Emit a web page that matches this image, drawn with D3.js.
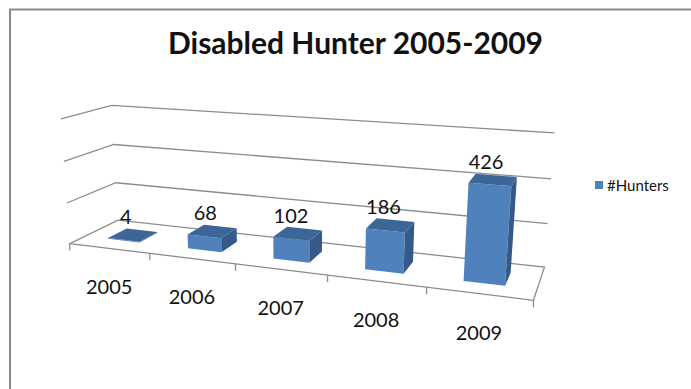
<!DOCTYPE html>
<html>
<head>
<meta charset="utf-8">
<script src="https://cdn.jsdelivr.net/npm/d3@7"></script>
<style>
  body { margin: 0; background: #fff; }
  svg { display: block; }
  text { font-family: Lato, "Open Sans", sans-serif; fill: #111; }
</style>
</head>
<body>
<script>

var years = ["2005", "2006", "2007", "2008", "2009"];
var hunters = [4, 68, 102, 186, 426];
var valueTicks = [0, 200, 400, 600];
var seriesName = "#Hunters";
var title = "Disabled Hunter 2005-2009";

var width = 691, height = 389;

// where the plot box corners land on screen (x, y, z in box units -> px)
// x: categories 0..5, y: gridline units 0..3, z: depth 0 (front) .. 1 (back)
var anchors = [
    [0, 0, 0, 70, 242], [5, 0, 0, 533, 300],
    [1, 0, 0, 149.3, 253.3], [2, 0, 0, 235.7, 264.5], [3, 0, 0, 327.7, 276], [4, 0, 0, 427, 287.5],
    [0, 0, 1, 117.5, 221], [5, 0, 1, 544.3, 266.7],
    [0, 1, 1, 116.5, 182.3], [0, 2, 1, 113.5, 144.3], [0, 3, 1, 111.7, 105.7],
    [5, 1, 1, 547.7, 223.3], [5, 2, 1, 551.5, 179], [5, 3, 1, 554.3, 132.7],
    [0, 1, 0, 67.3, 203.3], [0, 2, 0, 64, 161], [0, 3, 0, 60.7, 119]
];

// fit a perspective projection (3x4 matrix) through the anchors, least squares
function fitProjection(pts) {
    var n = 11;
    var M = [];
    for (var i = 0; i < n; i++) M.push(new Array(n + 1).fill(0));
    function add(row, rhs) {
        for (var i = 0; i < n; i++) {
            for (var j = 0; j < n; j++) M[i][j] += row[i] * row[j];
            M[i][n] += row[i] * rhs;
        }
    }
    pts.forEach(function (p) {
        var X = p[0], Y = p[1], Z = p[2];
        var u = (p[3] - 300) / 200, v = (p[4] - 200) / 200;
        add([X, Y, Z, 1, 0, 0, 0, 0, -u * X, -u * Y, -u * Z], u);
        add([0, 0, 0, 0, X, Y, Z, 1, -v * X, -v * Y, -v * Z], v);
    });
    for (var c = 0; c < n; c++) {
        var piv = c;
        for (var r = c + 1; r < n; r++) if (Math.abs(M[r][c]) > Math.abs(M[piv][c])) piv = r;
        var tmp = M[c]; M[c] = M[piv]; M[piv] = tmp;
        for (var r2 = 0; r2 < n; r2++) {
            if (r2 === c) continue;
            var f = M[r2][c] / M[c][c];
            for (var k = c; k <= n; k++) M[r2][k] -= f * M[c][k];
        }
    }
    return M.map(function (row, i) { return row[n] / row[i]; });
}

var P = fitProjection(anchors);

function project(x, y, z) {
    var w = P[8] * x + P[9] * y + P[10] * z + 1;
    var u = (P[0] * x + P[1] * y + P[2] * z + P[3]) / w;
    var v = (P[4] * x + P[5] * y + P[6] * z + P[7]) / w;
    return [u * 200 + 300, v * 200 + 200];
}

var xBand = d3.scaleBand().domain(years).range([0, 5]).paddingInner(0).paddingOuter(0);
var yScale = d3.scaleLinear().domain([0, 600]).range([0, 3]);
var line = d3.line();

var svg = d3.select("body")
    .append("svg")
    .attr("width", width)
    .attr("height", height);

// outer frame, partly cut off on right and bottom
svg.append("rect")
    .attr("x", 10).attr("y", 9.5)
    .attr("width", 720).attr("height", 420)
    .attr("fill", "none")
    .attr("stroke", "#8a8a8a")
    .attr("stroke-width", 2);

svg.append("text")
    .attr("x", 355.5).attr("y", 54)
    .attr("text-anchor", "middle")
    .attr("font-size", 31)
    .attr("font-weight", "bold")
    .attr("textLength", 375)
    .attr("lengthAdjust", "spacingAndGlyphs")
    .text(title);

var grid = svg.append("g")
    .attr("fill", "none")
    .attr("stroke", "#8c8c8c")
    .attr("stroke-width", 1.3);

// side wall + back wall gridlines
valueTicks.slice(1).forEach(function (t) {
    var gy = yScale(t);
    grid.append("path")
        .attr("d", line([project(0, gy, 0), project(0, gy, 1), project(5, gy, 1)]));
});

// floor outline
grid.append("path")
    .attr("d", line([project(0, 0, 0), project(5, 0, 0), project(5, 0, 1), project(0, 0, 1)]) + "Z");

// category ticks
d3.range(0, 6).forEach(function (i) {
    var p = project(i, 0, 0);
    grid.append("line")
        .attr("x1", p[0]).attr("y1", p[1])
        .attr("x2", p[0]).attr("y2", p[1] + 7);
});

var data = years.map(function (y, i) { return { year: y, value: hunters[i] }; });

var bars = svg.selectAll("g.bar")
    .data(data)
    .enter()
    .append("g")
    .attr("class", "bar");

function faces(d) {
    var x0 = xBand(d.year) + 0.3, x1 = xBand(d.year) + 0.7;
    var z0 = 0.3, z1 = 0.7, h = yScale(d.value);
    return [
        { fill: "#4f81bd", pts: [[x0, 0, z0], [x1, 0, z0], [x1, h, z0], [x0, h, z0]] },
        { fill: "#34598a", pts: [[x1, 0, z0], [x1, 0, z1], [x1, h, z1], [x1, h, z0]] },
        { fill: "#3d6698", pts: [[x0, h, z0], [x1, h, z0], [x1, h, z1], [x0, h, z1]] }
    ];
}

bars.selectAll("path")
    .data(faces)
    .enter()
    .append("path")
    .attr("fill", function (f) { return f.fill; })
    .attr("d", function (f) {
        return line(f.pts.map(function (p) { return project(p[0], p[1], p[2]); })) + "Z";
    });

// value labels
svg.selectAll("text.value")
    .data(data)
    .enter()
    .append("text")
    .attr("class", "value")
    .attr("text-anchor", "middle")
    .attr("font-size", 20)
    .attr("x", function (d) { return project(xBand(d.year) + 0.5, yScale(d.value), 0.5)[0] - 7; })
    .attr("y", function (d) { return project(xBand(d.year) + 0.5, yScale(d.value), 0.5)[1] - 11; })
    .text(function (d) { return d.value; });

// category labels
svg.selectAll("text.year")
    .data(years)
    .enter()
    .append("text")
    .attr("class", "year")
    .attr("text-anchor", "middle")
    .attr("font-size", 20)
    .attr("x", function (d) { return project(xBand(d) + 0.5, 0, 0)[0]; })
    .attr("y", function (d) { return project(xBand(d) + 0.5, 0, 0)[1] + 46; })
    .text(function (d) { return d; });

// legend
svg.append("rect")
    .attr("x", 595).attr("y", 181)
    .attr("width", 8).attr("height", 8)
    .attr("fill", "#4f81bd");

svg.append("text")
    .attr("x", 607).attr("y", 191)
    .attr("font-size", 15)
    .text(seriesName);

</script>
</body>
</html>
